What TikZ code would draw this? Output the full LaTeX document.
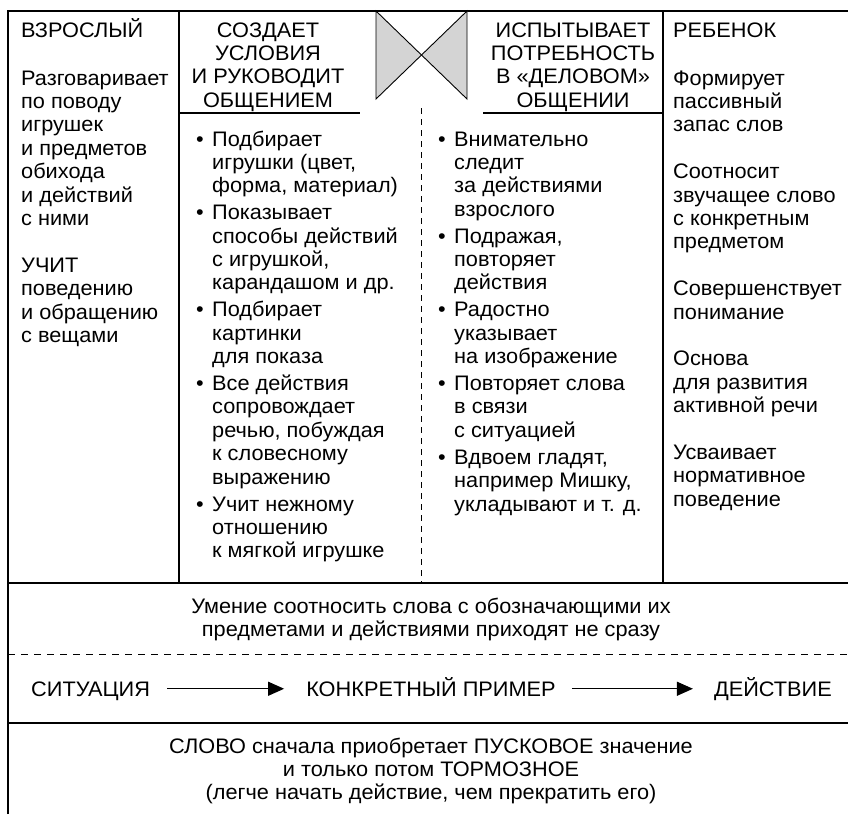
\documentclass[tikz,border=0pt]{standalone}
\usepackage{fontspec}
\setmainfont{Liberation Sans}[FakeStretch=1.035]
\usetikzlibrary{arrows.meta}
\definecolor{bowgray}{RGB}{212,212,212}
\begin{document}
\begin{tikzpicture}[x=1pt,y=-1pt,
  txt/.style={inner sep=0pt, font=\fontsize{21}{23.4}\selectfont},
  frame/.style={line width=1.1pt, draw=black},
  dashv/.style={line width=0.9pt, dash pattern=on 6pt off 5pt},
  dashh/.style={line width=0.9pt, dash pattern=on 7pt off 6pt},
  bow/.style={fill=bowgray, draw=black, line width=0.9pt, line join=miter},
  rowtxt/.style={txt, text height=14.5pt, text depth=0pt},
  arr/.style={line width=1.1pt, -{Triangle[length=16pt,width=14pt]}}]
\useasboundingbox (0,0) rectangle (848,814);
% frame lines
\draw[frame] (8,814) -- (8,11) -- (848,11);
\draw[frame] (179,11) -- (179,583);
\draw[frame] (663,11) -- (663,583);
\draw[frame] (8,583) -- (848,583);
\draw[frame] (8,723) -- (848,723);
\draw[dashh] (8,654) -- (848,654);
\draw[dashv] (421.5,108) -- (421.5,583);
\draw[frame] (179,113) -- (360,113);
\draw[frame] (483,113) -- (663,113);
% bowtie
\filldraw[bow] (376,11) -- (421.5,55) -- (376,99) -- cycle;
\filldraw[bow] (467,11) -- (421.5,55) -- (467,99) -- cycle;
% adult column
\node[txt, anchor=base west] (adult) at (21,37) {ВЗРОСЛЫЙ};
\foreach \k/\t in {0/Разговаривает, 1/по поводу, 2/игрушек, 3/и предметов, 4/обихода, 5/и действий, 6/с ними, 8/УЧИТ, 9/поведению, 10/и обращению, 11/с вещами}
  \node[txt, anchor=base west] (ad\k) at (21,{85+23.4*\k}) {\t};
% child column
\node[txt, anchor=base west] (child) at (673,37) {РЕБЕНОК};
\foreach \k/\t in {0/Формирует, 1/пассивный, 2/запас слов, 4/Соотносит, 5/звучащее слово, 6/с конкретным, 7/предметом, 9/Совершенствует, 10/понимание, 12/Основа, 13/для развития, 14/активной речи, 16/Усваивает, 17/нормативное, 18/поведение}
  \node[txt, anchor=base west] (ch\k) at (673,{85+23.4*\k}) {\t};
% headers
\foreach \k/\t in {0/СОЗДАЕТ, 1/УСЛОВИЯ, 2/И РУКОВОДИТ, 3/ОБЩЕНИЕМ}
  \node[txt, anchor=base] (hl\k) at (268,{37+23.4*\k}) {\t};
\foreach \k/\t in {0/ИСПЫТЫВАЕТ, 1/ПОТРЕБНОСТЬ, 2/В «ДЕЛОВОМ», 3/ОБЩЕНИИ}
  \node[txt, anchor=base] (hr\k) at (573,{37+23.4*\k}) {\t};
% left-middle bullets
\foreach \k/\g/\t in {0/0/Подбирает, 1/0/{игрушки (цвет,}, 2/0/{форма, материал)}, 3/1/Показывает, 4/1/способы действий, 5/1/{с игрушкой,}, 6/1/карандашом и др., 7/2/Подбирает, 8/2/картинки, 9/2/для показа, 10/3/Все действия, 11/3/сопровождает, 12/3/{речью, побуждая}, 13/3/к словесному, 14/3/выражению, 15/4/Учит нежному, 16/4/отношению, 17/4/к мягкой игрушке}
  \node[txt, anchor=base west] (lm\k) at (212,{146+23.4*\k+3.5*\g}) {\t};
\foreach \k/\g in {0/0,3/1,7/2,10/3,15/4}
  \node[txt, anchor=base west] (lb\k) at (196,{146+23.4*\k+3.5*\g}) {•};
% right-middle bullets
\foreach \k/\g/\t in {0/0/Внимательно, 1/0/следит, 2/0/за действиями, 3/0/взрослого, 4/1/{Подражая,}, 5/1/повторяет, 6/1/действия, 7/2/Радостно, 8/2/указывает, 9/2/на изображение, 10/3/Повторяет слова, 11/3/в связи, 12/3/с ситуацией, 13/4/{Вдвоем гладят,}, 14/4/{например Мишку,}, 15/4/укладывают и т. д.}
  \node[txt, anchor=base west] (rm\k) at (454,{146+23.4*\k+3.5*\g}) {\t};
\foreach \k/\g in {0/0,4/1,7/2,10/3,13/4}
  \node[txt, anchor=base west] (rb\k) at (438,{146+23.4*\k+3.5*\g}) {•};
% bottom texts
\node[txt, anchor=base] (u1) at (431,613) {Умение соотносить слова с обозначающими их};
\node[txt, anchor=base] (u2) at (431,636.4) {предметами и действиями приходят не сразу};
\node[rowtxt, anchor=base west] (sit) at (31,696) {СИТУАЦИЯ};
\node[rowtxt, anchor=base] (konk) at (431,696) {КОНКРЕТНЫЙ ПРИМЕР};
\node[rowtxt, anchor=base east] (deys) at (832,696) {ДЕЙСТВИЕ};
\draw[arr, shorten <=17pt, shorten >=22pt] (sit) -- (konk);
\draw[arr, shorten <=16pt, shorten >=21pt] (konk) -- (deys);
\node[txt, anchor=base] (s1) at (431,753) {СЛОВО сначала приобретает ПУСКОВОЕ значение};
\node[txt, anchor=base] (s2) at (431,776.4) {и только потом ТОРМОЗНОЕ};
\node[txt, anchor=base] (s3) at (431,799.8) {(легче начать действие, чем прекратить его)};
\end{tikzpicture}
\end{document}
